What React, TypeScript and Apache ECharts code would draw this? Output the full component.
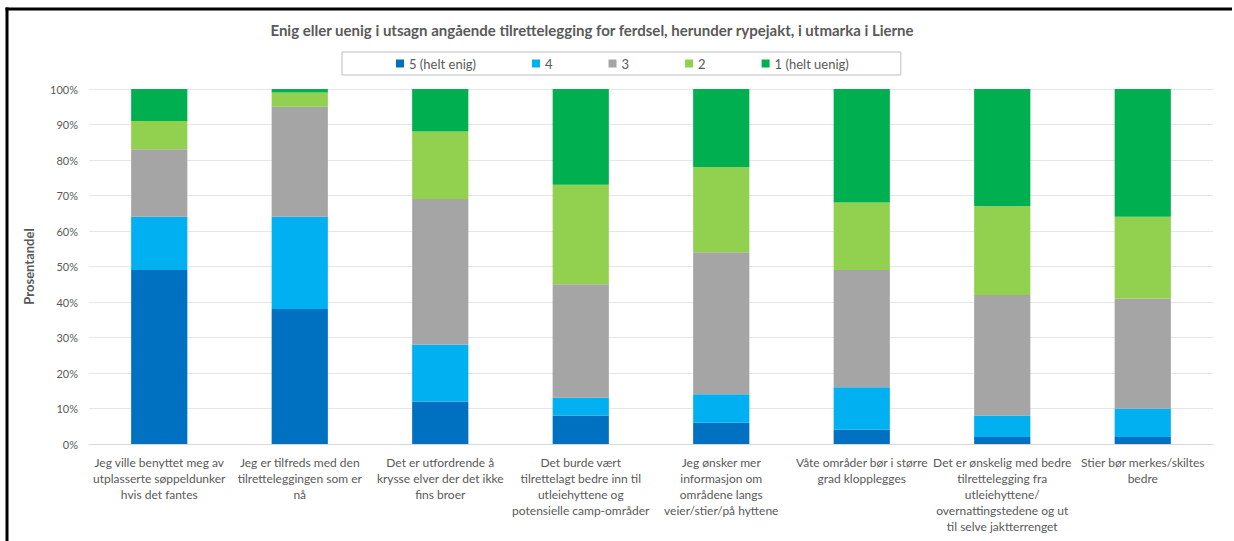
import { useEffect, useRef } from "react";
import * as echarts from "echarts";

const titleText =
  "Enig eller uenig i utsagn angående tilrettelegging for ferdsel, herunder rypejakt, i utmarka i Lierne";
const yAxisName = "Prosentandel";

const categories = [
  "Jeg ville benyttet meg av\nutplasserte søppeldunker\nhvis det fantes",
  "Jeg er tilfreds med den\ntilretteleggingen som er\nnå",
  "Det er utfordrende å\nkrysse elver der det ikke\nfins broer",
  "Det burde vært\ntilrettelagt bedre inn til\nutleiehyttene og\npotensielle camp-områder",
  "Jeg ønsker mer\ninformasjon om\nområdene langs\nveier/stier/på hyttene",
  "Våte områder bør i større\ngrad klopplegges",
  "Det er ønskelig med bedre\ntilrettelegging fra\nutleiehyttene/\novernattingstedene og ut\ntil selve jaktterrenget",
  "Stier bør merkes/skiltes\nbedre",
];

const seriesNames = ["5 (helt enig)", "4", "3", "2", "1 (helt uenig)"];
const s5 = [49, 38, 12, 8, 6, 4, 2, 2];
const s4 = [15, 26, 16, 5, 8, 12, 6, 8];
const s3 = [19, 31, 41, 32, 40, 33, 34, 31];
const s2 = [8, 4, 19, 28, 24, 19, 25, 23];
const s1 = [9, 1, 12, 27, 22, 32, 33, 36];
const seriesValues = [s5, s4, s3, s2, s1];
const seriesColors = ["#0070C0", "#00B0F0", "#A5A5A5", "#92D050", "#00B050"];

const FONT = "Lato, 'Liberation Sans', sans-serif";

export default function App() {
  const ref = useRef<HTMLDivElement>(null);
  useEffect(() => {
    document.body.style.margin = "0";
    document.body.style.overflow = "hidden";
    if (!ref.current) return;
    const chart = echarts.init(ref.current, undefined, { renderer: "svg" });
    chart.setOption({
      animation: false,
      backgroundColor: "#ffffff",
      textStyle: { fontFamily: FONT },
      title: {
        text: titleText,
        left: 592,
        textAlign: "center",
        top: 22,
        padding: 0,
        textStyle: { color: "#595959", fontSize: 15, fontWeight: "bold", fontFamily: FONT },
      },
      legend: {
        data: seriesNames,
        left: 342,
        top: 52,
        icon: "rect",
        itemWidth: 8,
        itemHeight: 8,
        itemGap: 56,
        padding: [5, 52, 5, 54],
        borderColor: "#BFBFBF",
        borderWidth: 1,
        textStyle: { color: "#595959", fontSize: 13, fontFamily: FONT },
      },
      grid: { left: 89, right: 21, top: 89, bottom: 97, containLabel: false },
      xAxis: {
        type: "category",
        data: categories,
        axisTick: { show: false },
        axisLine: { lineStyle: { color: "#D9D9D9" } },
        axisLabel: {
          interval: 0,
          color: "#595959",
          fontSize: 12,
          lineHeight: 16,
          margin: 10,
          fontFamily: FONT,
        },
      },
      yAxis: {
        type: "value",
        min: 0,
        max: 100,
        interval: 10,
        name: yAxisName,
        nameLocation: "middle",
        nameRotate: 90,
        nameGap: 54,
        nameTextStyle: { color: "#595959", fontSize: 13, fontWeight: "bold", fontFamily: FONT },
        axisLine: { show: false },
        axisTick: { show: false },
        splitLine: { lineStyle: { color: "#E6E6E6" } },
        axisLabel: { formatter: "{value}%", color: "#595959", fontSize: 11, margin: 11, fontFamily: FONT },
      },
      series: seriesNames.map((name, i) => ({
        name,
        type: "bar",
        stack: "total",
        barWidth: "40%",
        data: seriesValues[i],
        itemStyle: { color: seriesColors[i] },
      })),
      graphic: [
        {
          type: "line",
          shape: { x1: 5.5, y1: 9, x2: 1232, y2: 9 },
          style: { stroke: "#000000", lineWidth: 3 },
          silent: true,
          z: 100,
        },
        {
          type: "line",
          shape: { x1: 7, y1: 7.5, x2: 7, y2: 541 },
          style: { stroke: "#000000", lineWidth: 3 },
          silent: true,
          z: 100,
        },
      ],
    });
    return () => chart.dispose();
  }, []);
  return (
    <div
      ref={ref}
      style={{ position: "fixed", left: 0, top: 0, width: 1234, height: 541, background: "#fff" }}
    />
  );
}
